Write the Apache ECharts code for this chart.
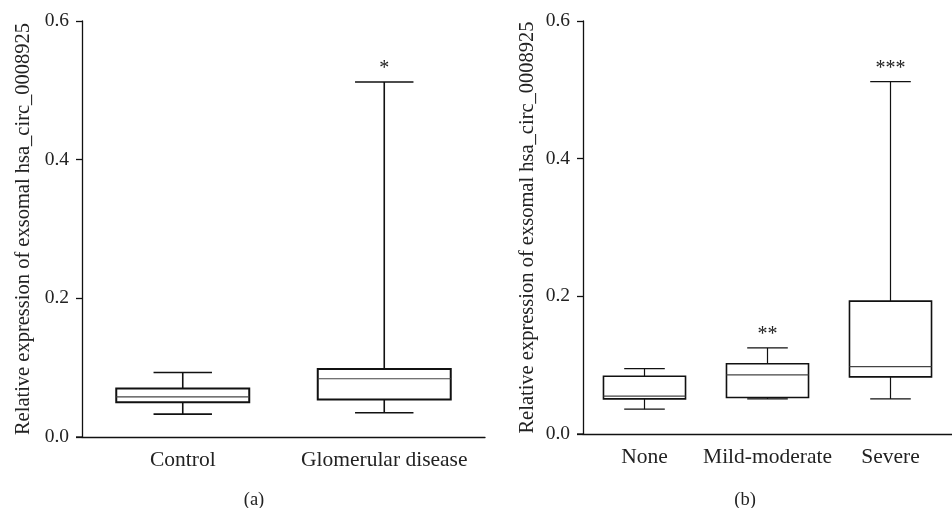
<!DOCTYPE html>
<html>
<head>
<meta charset="utf-8">
<script src="https://cdn.jsdelivr.net/npm/echarts@6/dist/echarts.min.js"></script>
<style>
html, body { margin: 0; padding: 0; background: #fff; }
#chart { width: 952px; height: 508px; }
</style>
</head>
<body>
<div id="chart"></div>
<script>
// 数据：[最小值, Q1, 中位数, Q3, 最大值]
const catsA = ['Control', 'Glomerular disease']
const boxA = [
  [0.033, 0.050, 0.058, 0.070, 0.093],
  [0.035, 0.054, 0.084, 0.098, 0.512]
]
const starsA = ['', '*']

const catsB = ['None', 'Mild-moderate', 'Severe']
const boxB = [
  [0.036, 0.051, 0.055, 0.084, 0.095],
  [0.051, 0.053, 0.086, 0.102, 0.125],
  [0.051, 0.083, 0.098, 0.193, 0.512]
]
const starsB = ['', '**', '***']

const yTicks = [0, 0.2, 0.4, 0.6]
const yTitle = 'Relative expression of exsomal hsa_circ_0008925'
const serif = '"Liberation Serif", "DejaVu Serif", serif'

// 箱线图绘制（须线端宽度小于箱宽）
function makeRender(boxFrac, capFrac, lw, stars) {
  return function (params, api) {
    const x = api.value(0)
    const band = api.size([1, 0])[0]
    const p = [1, 2, 3, 4, 5].map((i) => api.coord([x, api.value(i)]))
    const cx = p[0][0]
    const bw = band * boxFrac / 2
    const cw = band * capFrac / 2
    const line = (x1, y1, x2, y2, w, c) => ({
      type: 'line',
      shape: { x1, y1, x2, y2 },
      style: { stroke: c || '#111', lineWidth: w || lw }
    })
    const children = [
      line(cx, p[0][1], cx, p[1][1]),
      line(cx, p[3][1], cx, p[4][1]),
      line(cx - cw, p[0][1], cx + cw, p[0][1]),
      line(cx - cw, p[4][1], cx + cw, p[4][1]),
      {
        type: 'rect',
        shape: { x: cx - bw, y: p[3][1], width: bw * 2, height: p[1][1] - p[3][1] },
        style: { fill: 'none', stroke: '#111', lineWidth: lw + 0.4 }
      },
      line(cx - bw, p[2][1], cx + bw, p[2][1], 1.2, '#444')
    ]
    const s = stars[params.dataIndex]
    if (s) {
      children.push({
        type: 'text',
        style: {
          text: s,
          x: cx,
          y: p[4][1] - 13,
          textAlign: 'center',
          verticalAlign: 'middle',
          textVerticalAlign: 'middle',
          fill: '#222',
          fontSize: 20,
          fontFamily: serif
        }
      })
    }
    return { type: 'group', children }
  }
}

const yAxisBase = {
  type: 'value',
  min: 0,
  max: 0.6,
  interval: 0.2,
  name: yTitle,
  nameLocation: 'middle',
  nameGap: 48,
  nameTextStyle: { color: '#222', fontSize: 20.5, fontFamily: serif },
  axisLine: { show: true, lineStyle: { color: '#111', width: 1.3 } },
  axisTick: { show: true, length: 6, lineStyle: { color: '#111', width: 1.3 } },
  axisLabel: {
    color: '#222',
    fontSize: 19.5,
    fontFamily: serif,
    margin: 13,
    formatter: (v) => v.toFixed(1)
  },
  splitLine: { show: false }
}

const xAxisBase = {
  type: 'category',
  axisLine: { lineStyle: { color: '#111', width: 1.3 } },
  axisTick: { alignWithLabel: true, length: 7, lineStyle: { color: '#111', width: 1.3 } },
  axisLabel: { color: '#222', fontSize: 21.5, fontFamily: serif, margin: 12, interval: 0 }
}

const chart = echarts.init(document.getElementById('chart'))
const option = {
  animation: false,
  backgroundColor: '#fff',
  grid: [
    { left: 82, top: 21, right: 467, bottom: 71 },
    { left: 583, top: 21, right: -13, bottom: 74 }
  ],
  xAxis: [
    Object.assign({}, xAxisBase, { gridIndex: 0, data: catsA }),
    Object.assign({}, xAxisBase, { gridIndex: 1, data: catsB })
  ],
  yAxis: [
    Object.assign({}, yAxisBase, { gridIndex: 0 }),
    Object.assign({}, yAxisBase, { gridIndex: 1, nameGap: 45 })
  ],
  title: [
    { text: '(a)', left: 249, top: 486, textAlign: 'center', textStyle: { fontSize: 18.5, fontWeight: 'normal', color: '#222', fontFamily: serif } },
    { text: '(b)', left: 740, top: 486, textAlign: 'center', textStyle: { fontSize: 18.5, fontWeight: 'normal', color: '#222', fontFamily: serif } }
  ],
  graphic: [
    // x 轴线向 y 轴左侧略微延伸
    { type: 'line', shape: { x1: 76, y1: 437, x2: 82, y2: 437 }, style: { stroke: '#111', lineWidth: 1.3 } },
    { type: 'line', shape: { x1: 577, y1: 434, x2: 583, y2: 434 }, style: { stroke: '#111', lineWidth: 1.3 } }
  ],
  series: [
    {
      type: 'custom',
      xAxisIndex: 0,
      yAxisIndex: 0,
      renderItem: makeRender(0.66, 0.29, 1.6, starsA),
      encode: { x: 0, y: [1, 2, 3, 4, 5] },
      data: boxA.map((b, i) => [i].concat(b))
    },
    {
      type: 'custom',
      xAxisIndex: 1,
      yAxisIndex: 1,
      renderItem: makeRender(0.667, 0.33, 1.2, starsB),
      encode: { x: 0, y: [1, 2, 3, 4, 5] },
      data: boxB.map((b, i) => [i].concat(b))
    }
  ]
}
chart.setOption(option)
</script>
</body>
</html>
